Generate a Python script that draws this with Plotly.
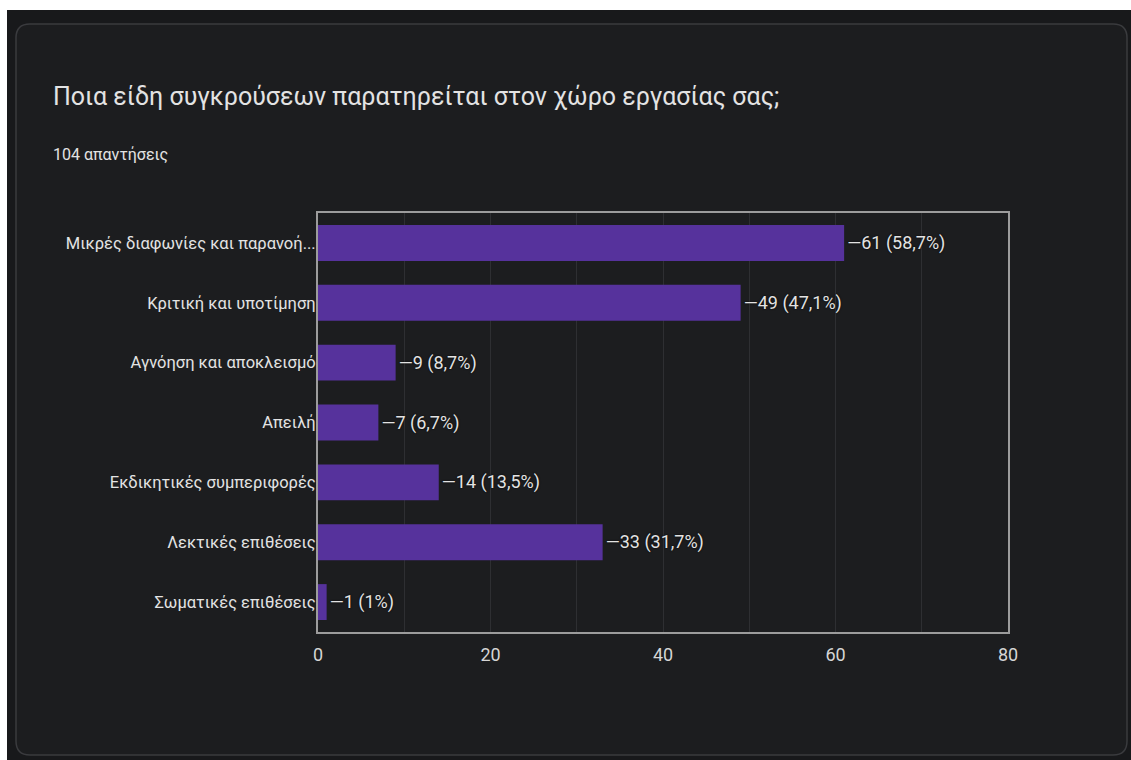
import plotly.graph_objects as go

# Survey results: types of workplace conflict
categories = [
    "Μικρές διαφωνίες και παρανοή...",
    "Κριτική και υποτίμηση",
    "Αγνόηση και αποκλεισμό",
    "Απειλή",
    "Εκδικητικές συμπεριφορές",
    "Λεκτικές επιθέσεις",
    "Σωματικές επιθέσεις",
]
counts = [61, 49, 9, 7, 14, 33, 1]
percent_labels = ["58,7%", "47,1%", "8,7%", "6,7%", "13,5%", "31,7%", "1%"]
x_ticks = [0, 20, 40, 60, 80]

title_text = "Ποια είδη συγκρούσεων παρατηρείται στον χώρο εργασίας σας;"
subtitle_text = "104 απαντήσεις"

W, H = 1131, 760
L, R, T, B = 318, 1008, 213, 632  # plot area in pixels

FONT = "Roboto, Arial, sans-serif"
TEXT = "#e3e3e3"
BAR = "#56329c"


def px(x):
    return (x - L) / (R - L)


def py(y):
    return (B - y) / (B - T)


bar_text = [f"—{c} ({p})" for c, p in zip(counts, percent_labels)]

fig = go.Figure(
    go.Bar(
        x=counts,
        y=categories,
        orientation="h",
        marker=dict(color=BAR, line=dict(width=0)),
        text=bar_text,
        textposition="outside",
        textfont=dict(family=FONT, size=18, color=TEXT, shadow="0px 0px 2px #000"),
        cliponaxis=False,
        hoverinfo="skip",
    )
)


def rounded_rect(x0, y0, x1, y1, r):
    # path in paper coordinates built from pixel corners
    rx = r / (R - L)
    ry = r / (B - T)
    a0, a1 = px(x0), px(x1)
    b0, b1 = py(y0), py(y1)  # b0 is top (larger), b1 bottom
    return (
        f"M {a0 + rx},{b0} L {a1 - rx},{b0} Q {a1},{b0} {a1},{b0 - ry} "
        f"L {a1},{b1 + ry} Q {a1},{b1} {a1 - rx},{b1} "
        f"L {a0 + rx},{b1} Q {a0},{b1} {a0},{b1 + ry} "
        f"L {a0},{b0 - ry} Q {a0},{b0} {a0 + rx},{b0} Z"
    )


shapes = [
    # white strips along the top and left edges
    dict(type="rect", xref="paper", yref="paper", layer="below",
         x0=px(0), x1=px(W), y0=py(0), y1=py(10),
         fillcolor="#ffffff", line=dict(width=0)),
    dict(type="rect", xref="paper", yref="paper", layer="below",
         x0=px(0), x1=px(7), y0=py(0), y1=py(H),
         fillcolor="#ffffff", line=dict(width=0)),
    # card
    dict(type="path", xref="paper", yref="paper", layer="below",
         path=rounded_rect(16, 24, 1127, 755, 14),
         fillcolor="#1c1d1f", line=dict(color="#3a3b3e", width=1.5)),
]

annotations = [
    dict(text=title_text, xref="paper", yref="paper", x=px(51), y=py(96),
         xanchor="left", yanchor="middle", showarrow=False,
         font=dict(family=FONT, size=25, color=TEXT)),
    dict(text=subtitle_text, xref="paper", yref="paper", x=px(51), y=py(154),
         xanchor="left", yanchor="middle", showarrow=False,
         font=dict(family=FONT, size=16, color=TEXT)),
]

fig.update_layout(
    width=W,
    height=H,
    margin=dict(l=L, r=W - R, t=T, b=H - B, pad=0),
    paper_bgcolor="#18191b",
    plot_bgcolor="#1c1d1f",
    bargap=0.4,
    showlegend=False,
    shapes=shapes,
    annotations=annotations,
    font=dict(family=FONT, color=TEXT),
)

fig.update_xaxes(
    range=[0, 80],
    tickvals=x_ticks,
    ticktext=[str(v) for v in x_ticks],
    tickfont=dict(family=FONT, size=18, color="#d6d6d6"),
    showgrid=True,
    gridcolor="#2e2f32",
    gridwidth=1,
    minor=dict(dtick=10, showgrid=True, gridcolor="#2e2f32", gridwidth=1),
    showline=True,
    linecolor="#9c9c9c",
    linewidth=2,
    mirror=True,
    ticks="",
    zeroline=False,
    ticklabelstandoff=5,
)

fig.update_yaxes(
    autorange="reversed",
    tickfont=dict(family=FONT, size=16.5, color=TEXT),
    showline=True,
    linecolor="#9c9c9c",
    linewidth=2,
    mirror=True,
    ticks="",
    showgrid=False,
    ticklabelstandoff=-3,
)

fig.write_html("out.html")
